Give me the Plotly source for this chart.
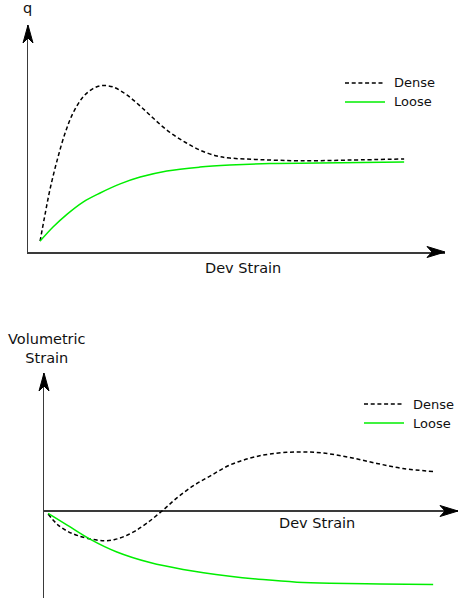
import plotly.graph_objects as go

# ---------------- data ----------------
series_names = ["Dense", "Loose"]

# Top panel: q vs deviatoric strain
top_dense_x = [0.29, 0.41, 0.53, 0.70, 0.89, 1.08, 1.32, 1.56, 1.77, 2.04, 2.37, 2.69, 3.00,
               3.33, 3.72, 4.12, 4.53, 4.84, 5.56, 6.52, 7.72, 9.02]
top_dense_y = [0.48, 1.67, 2.78, 4.05, 5.24, 6.12, 6.83, 7.20, 7.33, 7.27, 6.92, 6.43, 5.90,
               5.37, 4.89, 4.49, 4.23, 4.14, 4.07, 4.02, 4.05, 4.10]
top_loose_x = [0.29, 0.60, 0.94, 1.32, 1.73, 2.21, 2.69, 3.33, 4.12, 4.84, 5.80, 7.00, 9.02]
top_loose_y = [0.48, 1.10, 1.67, 2.20, 2.60, 3.00, 3.30, 3.57, 3.74, 3.83, 3.90, 3.92, 3.96]

# Bottom panel: volumetric strain vs deviatoric strain
bot_dense_x = [0.10, 0.34, 0.58, 0.82, 1.16, 1.47, 1.71, 1.96, 2.20, 2.49, 2.85, 3.21, 3.60,
               4.01, 4.49, 4.98, 5.46, 6.11, 6.74, 7.39, 8.04, 8.67, 9.40]
bot_dense_y = [-0.13, -0.61, -0.89, -1.07, -1.23, -1.29, -1.24, -1.09, -0.87, -0.52, 0.0, 0.57,
               1.09, 1.52, 2.00, 2.30, 2.48, 2.57, 2.52, 2.33, 2.07, 1.85, 1.72]
bot_loose_x = [0.10, 0.56, 1.11, 1.76, 2.56, 3.36, 4.49, 5.29, 6.11, 6.91, 8.12, 9.40]
bot_loose_y = [-0.10, -0.61, -1.22, -1.78, -2.24, -2.54, -2.83, -2.98, -3.09, -3.14, -3.17, -3.19]

x_label = "Dev Strain"
top_y_label = "q"
bot_y_label = "Volumetric<br>Strain"

# ---------------- layout helpers ----------------
W, H = 459, 604
def px(x):
    return x / W
def py(y):
    return 1 - y / H

FONT = "DejaVu Sans"
TXT = "#111111"
AXC = "#3a3a3a"
DENSE = dict(color="black", width=1.5, dash="4px,2.7px")
LOOSE = dict(color="#00ee00", width=1.5)

# axis geometry (pixels in the 459x604 canvas)
TOP_X0, TOP_X1, TOP_Y0, TOP_Y1 = 28, 445, 252, 25
BOT_X0, BOT_X1, BOT_Y0, BOT_Y1, BOT_ZERO = 44, 458, 598, 373, 511

fig = go.Figure()
fig.add_trace(go.Scatter(x=top_dense_x, y=top_dense_y, mode="lines", line=dict(shape="spline", **DENSE),
                         xaxis="x", yaxis="y", showlegend=False, name=series_names[0]))
fig.add_trace(go.Scatter(x=top_loose_x, y=top_loose_y, mode="lines", line=dict(shape="spline", **LOOSE),
                         xaxis="x", yaxis="y", showlegend=False, name=series_names[1]))
fig.add_trace(go.Scatter(x=bot_dense_x, y=bot_dense_y, mode="lines", line=dict(shape="spline", **DENSE),
                         xaxis="x2", yaxis="y2", showlegend=False, name=series_names[0]))
fig.add_trace(go.Scatter(x=bot_loose_x, y=bot_loose_y, mode="lines", line=dict(shape="spline", **LOOSE),
                         xaxis="x2", yaxis="y2", showlegend=False, name=series_names[1]))

hidden = dict(showgrid=False, showticklabels=False, ticks="", zeroline=False, fixedrange=True)

fig.update_layout(
    width=W, height=H,
    margin=dict(l=0, r=0, t=0, b=0),
    paper_bgcolor="white", plot_bgcolor="rgba(0,0,0,0)",
    font=dict(family=FONT, color=TXT),
    xaxis=dict(domain=[px(TOP_X0), px(TOP_X1)], range=[0, 10], showline=True, linecolor=AXC,
               linewidth=1.5, anchor="y", **hidden),
    yaxis=dict(domain=[py(TOP_Y0), py(TOP_Y1)], range=[0, 10], showline=True, linecolor=AXC,
               linewidth=1.5, anchor="x", **hidden),
    xaxis2=dict(domain=[px(BOT_X0), px(BOT_X1)], range=[0, 10], showline=False, anchor="y2", **hidden),
    yaxis2=dict(domain=[py(BOT_Y0), py(BOT_Y1)], range=[-3.78, 6], showline=True, linecolor=AXC,
                linewidth=1.5, anchor="x2", showgrid=False, showticklabels=False, ticks="",
                fixedrange=True, zeroline=True, zerolinecolor=AXC, zerolinewidth=1.5),
)

# arrowheads (pixel-sized, anchored at the axis ends, paper-referenced so they are not clipped)
def arrow_right(xa, ya):
    return dict(type="path", xref="paper", yref="paper", xsizemode="pixel", ysizemode="pixel",
                xanchor=px(xa), yanchor=py(ya), path="M0,0 L-18,5.5 L-13,0 L-18,-5.5 Z",
                fillcolor="black", line=dict(color="black", width=1), layer="above")

def arrow_up(xa, ya):
    return dict(type="path", xref="paper", yref="paper", xsizemode="pixel", ysizemode="pixel",
                xanchor=px(xa), yanchor=py(ya), path="M0,0 L-5,-18 L0,-13 L5,-18 Z",
                fillcolor="black", line=dict(color="black", width=1), layer="above")

shapes = [
    arrow_right(TOP_X1, TOP_Y0),
    arrow_up(TOP_X0, TOP_Y1),
    arrow_right(BOT_X1, BOT_ZERO),
    arrow_up(BOT_X0, BOT_Y1),
]

annotations = [
    dict(text=top_y_label, x=px(27), y=py(8), xref="paper", yref="paper", showarrow=False,
         xanchor="center", yanchor="middle", font=dict(size=14.5, color=TXT)),
    dict(text=x_label, x=px(243), y=py(268), xref="paper", yref="paper", showarrow=False,
         xanchor="center", yanchor="middle", font=dict(size=14.5, color=TXT)),
    dict(text=bot_y_label, x=px(47), y=py(348.5), xref="paper", yref="paper", showarrow=False,
         xanchor="center", yanchor="middle", font=dict(size=14.5, color=TXT)),
    dict(text=x_label, x=px(317), y=py(523), xref="paper", yref="paper", showarrow=False,
         xanchor="center", yanchor="middle", font=dict(size=14.5, color=TXT)),
]

# manual legends
def legend(x0, y0, dy):
    for i, (name, style) in enumerate(zip(series_names, [DENSE, LOOSE])):
        yy = y0 + i * dy
        shapes.append(dict(type="line", xref="paper", yref="paper", x0=px(x0), x1=px(x0 + 40),
                           y0=py(yy), y1=py(yy), line=style))
        annotations.append(dict(text=name, x=px(x0 + 47), y=py(yy), xref="paper", yref="paper",
                                showarrow=False, xanchor="left", yanchor="middle",
                                font=dict(size=13, color=TXT)))

legend(345, 83, 19)
legend(364, 404, 19)

fig.update_layout(shapes=shapes, annotations=annotations)
fig.write_html("out.html", config={"displayModeBar": False, "staticPlot": True},
               post_script="document.body.style.margin='0';document.body.style.overflow='hidden';")
